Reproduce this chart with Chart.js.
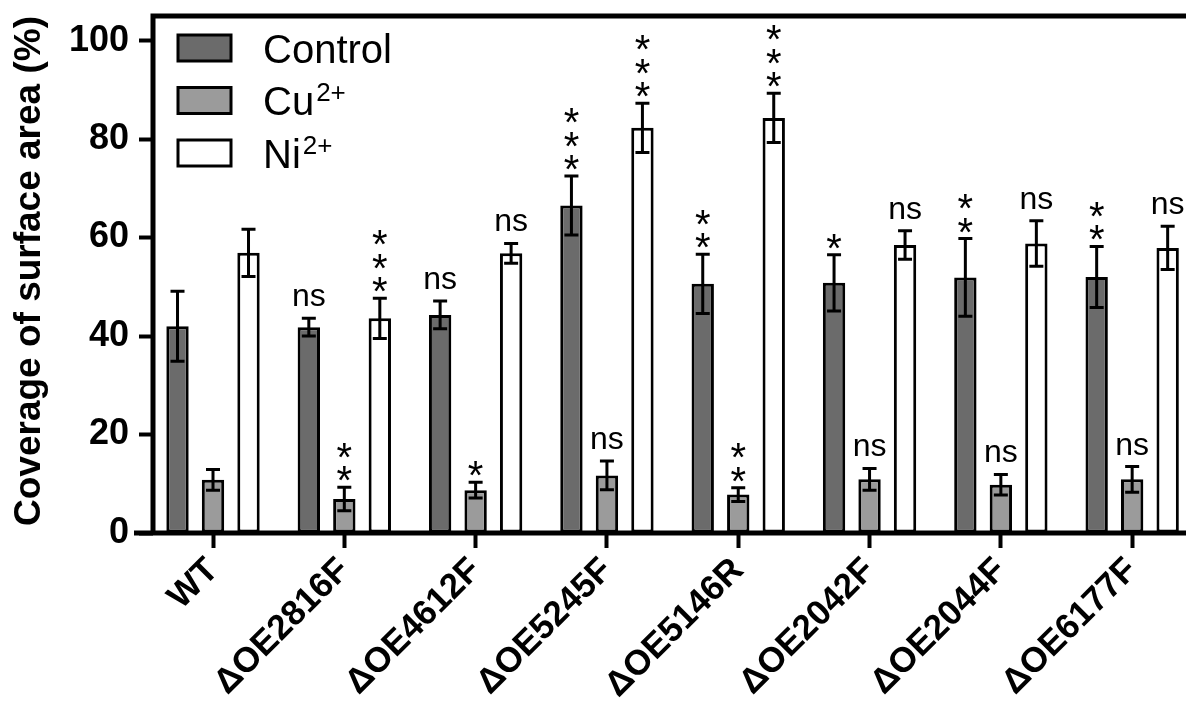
<!DOCTYPE html>
<html>
<head>
<meta charset="utf-8">
<script src="https://cdn.jsdelivr.net/npm/chart.js@4.4.0/dist/chart.umd.min.js"></script>
<style>
  html, body { margin: 0; padding: 0; background: #fff; overflow: hidden; }
  #wrap { width: 1186px; height: 717px; }
</style>
</head>
<body>
<div id="wrap"><canvas id="chart" width="1186" height="717"></canvas></div>
<script>
// ========== DATA ==========
const categories = ['WT', 'ΔOE2816F', 'ΔOE4612F', 'ΔOE5245F', 'ΔOE5146R', 'ΔOE2042F', 'ΔOE2044F', 'ΔOE6177F'];
const seriesNames = ['Control', 'Cu²⁺', 'Ni²⁺'];
const legendLabels = [['Control', ''], ['Cu', '2+'], ['Ni', '2+']];

const controlValues = [42.0, 41.8, 44.3, 66.5, 50.6, 50.8, 51.9, 52.0];
const controlErrors = [7.1, 1.8, 2.8, 6.0, 6.0, 5.7, 7.9, 6.2];
const cuValues = [10.8, 6.9, 8.7, 11.7, 7.8, 10.9, 9.8, 10.9];
const cuErrors = [2.1, 2.4, 1.6, 2.9, 1.4, 2.2, 2.1, 2.6];
const niValues = [56.9, 43.6, 56.8, 82.3, 84.3, 58.5, 58.8, 57.9];
const niErrors = [4.8, 4.1, 2.0, 5.0, 5.0, 2.9, 4.6, 4.4];

const controlSig = ['', 'ns', 'ns', '***', '**', '*', '**', '**'];
const cuSig = ['', '**', '*', 'ns', '**', 'ns', 'ns', 'ns'];
const niSig = ['', '***', 'ns', '***', '***', 'ns', 'ns', 'ns'];

const yTicks = [0, 20, 40, 60, 80, 100];

const FONT = "'Liberation Sans', Arial, sans-serif";
const barColors = ['#6b6b6b', '#9b9b9b', '#ffffff'];

// ========== PLUGINS ==========
const axesPlugin = {
    id: 'axesLines',
    afterDraw(chart) {
        const { ctx, chartArea: a } = chart;
        ctx.save();
        ctx.strokeStyle = '#000';
        ctx.lineWidth = 5;
        ctx.lineCap = 'butt';
        ctx.beginPath();
        // x axis (extends a bit left of y axis)
        ctx.moveTo(a.left - 19, a.bottom);
        ctx.lineTo(a.right, a.bottom);
        // y axis
        ctx.moveTo(a.left, a.bottom);
        ctx.lineTo(a.left, a.top - 2.5);
        // top border
        ctx.moveTo(a.left - 2.5, a.top);
        ctx.lineTo(a.right, a.top);
        ctx.stroke();
        ctx.restore();
    }
};

const errorBarPlugin = {
    id: 'errorBars',
    afterDatasetsDraw(chart) {
        const { ctx } = chart;
        const yScale = chart.scales.y;
        ctx.save();
        chart.data.datasets.forEach((ds, di) => {
            const meta = chart.getDatasetMeta(di);
            meta.data.forEach((bar, i) => {
                const v = ds.data[i].y, e = ds.errors[i];
                const x = bar.x;
                const yTop = yScale.getPixelForValue(v + e);
                const yBot = yScale.getPixelForValue(v - e);
                ctx.strokeStyle = '#000';
                ctx.lineWidth = 3;
                ctx.beginPath();
                ctx.moveTo(x, yTop); ctx.lineTo(x, yBot);
                ctx.moveTo(x - 7, yTop); ctx.lineTo(x + 7, yTop);
                ctx.moveTo(x - 7, yBot); ctx.lineTo(x + 7, yBot);
                ctx.stroke();

                // significance marks above the error bar
                const s = ds.sig[i];
                ctx.fillStyle = '#000';
                ctx.textAlign = 'center';
                ctx.textBaseline = 'alphabetic';
                if (s === 'ns') {
                    ctx.font = '32px ' + FONT;
                    ctx.fillText('ns', x, yTop - 12);
                } else if (s) {
                    ctx.font = '40px ' + FONT;
                    for (let k = 0; k < s.length; k++) {
                        const cy = yTop - 16 - k * 23.5;
                        ctx.fillText('*', x, cy + 23);
                    }
                }
            });
        });
        ctx.restore();
    }
};

const legendPlugin = {
    id: 'insideLegend',
    afterDraw(chart) {
        const { ctx, chartArea: a } = chart;
        ctx.save();
        chart.data.datasets.forEach((ds, i) => {
            const cy = a.top + 32 + i * 52.5;
            const bx = a.left + 25;
            ctx.fillStyle = ds.backgroundColor;
            ctx.fillRect(bx, cy - 13, 53, 26);
            ctx.strokeStyle = '#000';
            ctx.lineWidth = 3;
            ctx.strokeRect(bx, cy - 13, 53, 26);

            const [main, sup] = legendLabels[i];
            ctx.fillStyle = '#000';
            ctx.textAlign = 'left';
            ctx.textBaseline = 'alphabetic';
            ctx.font = '40px ' + FONT;
            const tx = a.left + 110;
            ctx.fillText(main, tx, cy + 14.5);
            if (sup) {
                const w = ctx.measureText(main).width;
                ctx.font = '26px ' + FONT;
                ctx.fillText(sup, tx + w + 2, cy + 0.5);
            }
        });
        ctx.restore();
    }
};

// ========== CHART ==========
function makeDataset(i, values, errors, sig) {
    return {
        label: seriesNames[i],
        data: values.map((v, k) => ({ x: k, y: v })),
        errors: errors,
        sig: sig,
        backgroundColor: barColors[i],
        borderColor: '#000',
        borderWidth: 3,
        borderSkipped: false,
        categoryPercentage: 0.811,
        barPercentage: 0.63
    };
}

const ctx = document.getElementById('chart').getContext('2d');
new Chart(ctx, {
    type: 'bar',
    data: {
        datasets: [
            makeDataset(0, controlValues, controlErrors, controlSig),
            makeDataset(1, cuValues, cuErrors, cuSig),
            makeDataset(2, niValues, niErrors, niSig)
        ]
    },
    options: {
        responsive: false,
        animation: false,
        layout: { padding: { top: 16, right: 0, left: 0, bottom: 0 } },
        plugins: { legend: { display: false }, tooltip: { enabled: false } },
        scales: {
            x: {
                type: 'linear',
                min: -0.457,
                max: 7.41,
                offset: false,
                afterBuildTicks: s => { s.ticks = categories.map((c, i) => ({ value: i })); },
                afterFit: s => { s.height = 717 - 533; s.paddingLeft = 0; s.paddingRight = 0; },
                ticks: {
                    callback: v => categories[v],
                    autoSkip: false,
                    minRotation: 45,
                    maxRotation: 45,
                    color: '#000',
                    padding: 2,
                    font: { family: FONT, size: 35, weight: 'bold' }
                },
                grid: { display: true, offset: false, drawOnChartArea: false, tickLength: 15, tickWidth: 4, tickColor: '#000' },
                border: { display: false }
            },
            y: {
                min: 0,
                max: 105,
                afterBuildTicks: s => { s.ticks = yTicks.map(v => ({ value: v })); },
                afterFit: s => { s.width = 153; s.paddingTop = 0; s.paddingBottom = 0; },
                ticks: {
                    color: '#000',
                    padding: 10,
                    font: { family: FONT, size: 36, weight: 'bold' }
                },
                grid: { display: true, drawOnChartArea: false, tickLength: 14, tickWidth: 4, tickColor: '#000' },
                border: { display: false },
                title: {
                    display: true,
                    text: 'Coverage of surface area (%)',
                    color: '#000',
                    align: 'end',
                    padding: { top: 8, bottom: 0 },
                    font: { family: FONT, size: 37, weight: 'bold' }
                }
            }
        }
    },
    plugins: [axesPlugin, errorBarPlugin, legendPlugin]
});
</script>
</body>
</html>
